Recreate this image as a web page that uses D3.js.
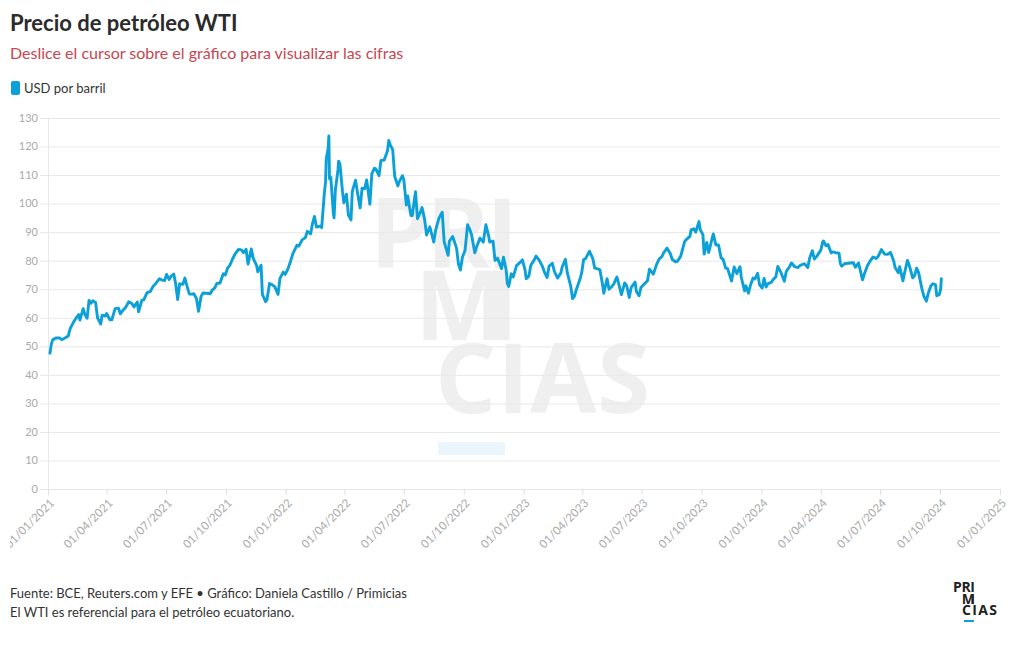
<!DOCTYPE html>
<html><head><meta charset="utf-8">
<script src="https://cdn.jsdelivr.net/npm/d3@7"></script>
<style>
body{margin:0;background:#fff;}
svg{display:block;font-family:"Source Sans Pro","Lato","Noto Sans",sans-serif;}
</style></head>
<body><svg id="c" width="1020" height="650"></svg>
<script>
const title = "Precio de petróleo WTI";
const subtitle = "Deslice el cursor sobre el gráfico para visualizar las cifras";
const seriesName = "USD por barril";
const footer1 = "Fuente: BCE, Reuters.com y EFE • Gráfico: Daniela Castillo / Primicias";
const footer2 = "El WTI es referencial para el petróleo ecuatoriano.";
const yTicks = [0,10,20,30,40,50,60,70,80,90,100,110,120,130];
const xTickDates = ["2021-01-01","2021-04-01","2021-07-01","2021-10-01","2022-01-01","2022-04-01","2022-07-01","2022-10-01","2023-01-01","2023-04-01","2023-07-01","2023-10-01","2024-01-01","2024-04-01","2024-07-01","2024-10-01","2025-01-01"];

const dates2021 = ["01-04","01-06","01-08","01-13","01-19","01-22","01-27","02-01","02-04","02-09","02-12","02-17","02-19","02-24","02-26","03-02","03-05","03-08","03-11","03-15","03-18","03-23","03-25","03-30","04-01","04-06","04-09","04-14","04-19","04-22","04-27","04-30","05-05","05-10","05-13","05-18","05-20","05-25","05-28","06-02","06-07","06-11","06-16","06-21","06-24","06-29","07-02","07-06","07-09","07-13","07-16","07-19","07-22","07-27","07-30","08-03","08-06","08-10","08-13","08-17","08-20","08-24","08-27","09-01","09-07","09-10","09-14","09-17","09-22","09-27","09-30","10-04","10-07","10-11","10-15","10-20","10-25","10-28","11-01","11-04","11-09","11-12","11-17","11-19","11-24","11-26","11-30","12-01","12-03","12-07","12-10","12-15","12-20","12-23","12-28","12-31"];
const values2021 = [47.6,50.6,52.2,52.9,52.9,52.3,52.9,53.6,56.2,58.4,59.5,61.1,59.2,63.2,61.5,59.8,66.1,65.1,66.0,65.4,60.0,57.8,60.9,60.6,61.5,59.3,59.3,63.2,63.4,61.4,62.9,63.6,65.6,64.9,63.8,65.5,62.1,66.1,66.3,68.8,69.2,70.9,72.2,73.7,73.3,73.0,75.2,73.4,74.6,75.3,71.8,66.4,71.9,71.7,73.9,70.6,68.3,68.3,68.4,66.6,62.3,67.5,68.7,68.6,68.4,69.7,70.5,72.0,72.2,75.4,75.0,77.6,78.3,80.5,82.3,83.9,83.8,82.8,84.0,78.8,84.1,80.8,78.4,76.1,78.4,68.2,66.2,65.6,66.3,72.0,71.7,70.9,68.2,73.8,76.0,75.2];

const dates2022 = ["01-04","01-07","01-12","01-18","01-21","01-26","01-31","02-03","02-08","02-11","02-14","02-17","02-23","02-25","03-01","03-03","03-04","03-07","03-08","03-09","03-11","03-15","03-16","03-18","03-22","03-23","03-25","03-29","03-31","04-04","04-07","04-11","04-13","04-18","04-21","04-25","04-28","05-02","05-05","05-10","05-13","05-17","05-19","05-24","05-27","06-01","06-06","06-08","06-10","06-14","06-17","06-22","06-24","06-29","07-01","07-05","07-07","07-12","07-14","07-19","07-22","07-27","07-29","08-02","08-05","08-10","08-16","08-19","08-24","08-29","09-01","09-07","09-09","09-14","09-20","09-23","09-26","09-29","10-03","10-07","10-10","10-13","10-18","10-21","10-26","10-31","11-04","11-08","11-10","11-15","11-18","11-22","11-28","12-01","12-05","12-07","12-09","12-13","12-16","12-21","12-27","12-30"];
const values2022 = [77.0,78.9,82.6,85.4,85.1,87.3,88.1,90.3,89.4,93.1,95.5,91.8,92.1,91.6,103.4,107.7,115.7,119.4,123.7,108.7,109.3,96.4,95.0,104.7,111.8,114.9,113.9,104.2,100.3,103.3,96.0,94.3,104.3,108.2,103.8,98.5,105.4,105.2,108.3,99.8,110.5,112.4,112.2,109.8,115.1,115.3,118.5,122.1,120.7,118.9,109.6,106.2,107.6,109.8,108.4,99.5,102.7,95.8,95.8,104.2,94.7,97.3,98.6,94.4,89.0,91.9,86.5,90.8,94.9,97.0,86.6,81.9,86.8,88.5,84.4,78.7,76.7,81.2,83.6,92.6,91.1,89.1,82.8,85.0,87.9,86.5,92.6,88.9,86.5,86.9,80.1,80.9,77.2,81.2,76.9,72.0,71.0,75.4,74.3,78.3,79.5,80.3];

const dates2023 = ["01-03","01-05","01-09","01-12","01-17","01-20","01-25","01-30","02-02","02-06","02-09","02-14","02-17","02-22","02-27","03-01","03-06","03-09","03-14","03-16","03-17","03-20","03-23","03-28","03-31","04-03","04-06","04-12","04-17","04-20","04-25","04-28","05-02","05-04","05-09","05-12","05-16","05-19","05-24","05-26","05-31","06-05","06-08","06-12","06-15","06-21","06-23","06-27","06-30","07-05","07-10","07-13","07-19","07-24","07-28","08-01","08-04","08-09","08-14","08-17","08-22","08-25","08-30","09-05","09-08","09-13","09-15","09-19","09-22","09-27","09-29","10-03","10-05","10-09","10-12","10-16","10-19","10-23","10-27","10-31","11-03","11-07","11-10","11-16","11-20","11-24","11-29","12-01","12-06","12-08","12-12","12-15","12-19","12-22","12-26","12-29"];
const values2023 = [76.9,73.7,74.6,78.4,80.2,81.6,80.1,77.9,75.9,74.1,78.1,79.1,76.3,73.9,75.7,77.7,80.5,75.7,71.3,68.3,66.7,67.6,70.0,73.2,75.7,80.4,80.7,83.3,80.8,77.4,77.1,76.8,71.7,68.6,73.7,70.0,70.9,71.7,74.3,72.7,68.1,72.2,71.3,67.1,70.6,72.5,69.2,67.7,70.6,71.8,73.0,77.0,75.3,78.7,80.6,81.4,82.8,84.4,82.5,80.4,79.6,79.8,81.6,86.7,87.5,88.5,90.8,91.2,90.0,93.7,90.8,89.2,82.3,86.4,82.9,86.7,89.4,85.5,85.5,81.0,80.5,77.4,77.2,72.9,77.8,75.5,77.9,74.1,69.4,71.2,68.6,71.4,73.9,73.6,75.6,71.6];

const dates2024 = ["01-02","01-05","01-08","01-11","01-16","01-19","01-23","01-26","01-31","02-05","02-08","02-13","02-16","02-21","02-26","02-29","03-04","03-07","03-12","03-15","03-19","03-22","03-26","04-01","04-04","04-05","04-09","04-12","04-17","04-19","04-24","04-29","05-01","05-03","05-08","05-13","05-16","05-21","05-24","05-29","06-03","06-04","06-07","06-12","06-17","06-20","06-25","06-28","07-03","07-08","07-12","07-17","07-22","07-24","07-29","07-31","08-05","08-07","08-12","08-15","08-20","08-23","08-26","08-29","09-03","09-06","09-10","09-13","09-17","09-20","09-24","09-26","09-30","10-02","10-03"];
const values2024 = [70.4,73.8,70.8,72.0,72.4,73.4,74.4,78.0,75.8,72.8,76.2,77.9,79.2,77.9,77.6,78.3,78.7,78.9,77.6,81.0,83.5,80.6,81.6,83.7,86.6,86.9,85.2,85.7,82.7,83.1,82.8,82.6,79.0,78.1,79.0,79.1,79.2,79.3,77.7,79.2,74.2,73.3,75.5,78.5,80.3,81.3,80.8,81.5,83.9,82.3,82.2,82.9,79.8,77.6,75.8,77.9,72.9,75.2,80.1,78.2,74.0,74.8,77.4,75.9,70.3,67.7,65.8,68.7,71.2,71.9,71.6,67.7,68.2,70.1,73.7];

const W = 1020, H = 650;
const margin = {left: 48, right: 20, top: 118, bottom: 161};
const svg = d3.select("#c");
const parse = d3.timeParse("%Y-%m-%d");

const data = [];
[[2021,dates2021,values2021],[2022,dates2022,values2022],[2023,dates2023,values2023],[2024,dates2024,values2024]].forEach(([yr, ds, vs]) => {
  ds.forEach((d, i) => data.push({date: parse(yr + "-" + d), value: vs[i]}));
});

const x = d3.scaleTime().domain([parse("2021-01-01"), parse("2025-01-01")]).range([margin.left, W - margin.right]);
const y = d3.scaleLinear().domain([0, 130]).range([H - margin.bottom, margin.top]);

svg.append("defs").append("clipPath").attr("id", "lblclip")
  .append("rect").attr("x", 10).attr("y", 0).attr("width", W - 10).attr("height", H);

// watermark
const wm = svg.append("g").attr("fill", "#efefef").style("font-family", "'Open Sans','Noto Sans',sans-serif").style("font-weight", 700).style("font-size", "96px");
wm.append("text").attr("x", 518).attr("y", 268).attr("text-anchor", "end").attr("textLength", 148).text("PRI");
wm.append("text").attr("x", 518).attr("y", 340).attr("text-anchor", "end").attr("textLength", 103).text("MI");
wm.append("text").attr("x", 435).attr("y", 413).attr("textLength", 215).text("CIAS");
wm.append("rect").attr("x", 438).attr("y", 442).attr("width", 67).attr("height", 13).attr("fill", "#eaf6fc");

// grid
svg.append("g").selectAll("line").data(yTicks).join("line")
  .attr("x1", margin.left - 8).attr("x2", W - margin.right)
  .attr("y1", d => y(d) + 0.5).attr("y2", d => y(d) + 0.5)
  .attr("stroke", "#e8e8e8").attr("stroke-width", 1);

svg.append("line").attr("x1", margin.left + 0.5).attr("x2", margin.left + 0.5)
  .attr("y1", margin.top).attr("y2", y(0) + 6).attr("stroke", "#e8e8e8");

// y labels
svg.append("g").selectAll("text").data(yTicks).join("text")
  .attr("x", margin.left - 10).attr("y", d => y(d)).attr("dy", "0.35em")
  .attr("text-anchor", "end").attr("fill", "#aaaaaa").style("font-size", "11px")
  .text(d => d);

// x ticks
const xt = xTickDates.map(parse);
const xg = svg.append("g");
xg.selectAll("line").data(xt).join("line")
  .attr("x1", d => x(d) + 0.5).attr("x2", d => x(d) + 0.5)
  .attr("y1", y(0)).attr("y2", y(0) + 6).attr("stroke", "#e0e0e0");
const fmt = d3.timeFormat("%d/%m/%Y");
xg.append("g").attr("clip-path", "url(#lblclip)").selectAll("text").data(xt).join("text")
  .attr("transform", d => `translate(${x(d) + 4},${y(0) + 12}) rotate(-45)`)
  .attr("text-anchor", "end").attr("dy", "0.35em")
  .attr("fill", "#aaaaaa").style("font-size", "11.5px")
  .text(d => fmt(d));

// line
const line = d3.line().x(d => x(d.date)).y(d => y(d.value)).curve(d3.curveLinear);
svg.append("path").datum(data).attr("d", line)
  .attr("fill", "none").attr("stroke", "#0ca0d8").attr("stroke-width", 2.9)
  .attr("stroke-linejoin", "round").attr("stroke-linecap", "round");

// header
svg.append("text").attr("x", 10).attr("y", 31).attr("fill", "#2b2b2b")
  .style("font-size", "22px").style("font-weight", 700).text(title);
svg.append("text").attr("x", 10).attr("y", 59).attr("fill", "#c8464f")
  .style("font-size", "16px").text(subtitle);
svg.append("rect").attr("x", 11).attr("y", 81).attr("width", 9).attr("height", 14).attr("rx", 2)
  .attr("fill", "#0ca0d8");
svg.append("text").attr("x", 24).attr("y", 93).attr("fill", "#333").style("font-size", "13px").text(seriesName);

// footer
svg.append("text").attr("x", 10).attr("y", 598).attr("fill", "#333").style("font-size", "13px").text(footer1);
svg.append("text").attr("x", 10).attr("y", 617).attr("fill", "#333").style("font-size", "13px").text(footer2);

// logo
const lg = svg.append("g").attr("fill", "#222").style("font-family", "'Open Sans','Noto Sans',sans-serif").style("font-weight", 700).style("font-size", "14px");
lg.append("text").attr("x", 975).attr("y", 592).attr("text-anchor", "end").attr("textLength", 22).text("PRI");
lg.append("text").attr("x", 975).attr("y", 603.5).attr("text-anchor", "end").attr("textLength", 13).text("MI");
lg.append("text").attr("x", 962).attr("y", 615).attr("textLength", 35).text("CIAS");
svg.append("rect").attr("x", 964).attr("y", 620).attr("width", 10).attr("height", 2).attr("fill", "#0ca0d8");
</script></body></html>
